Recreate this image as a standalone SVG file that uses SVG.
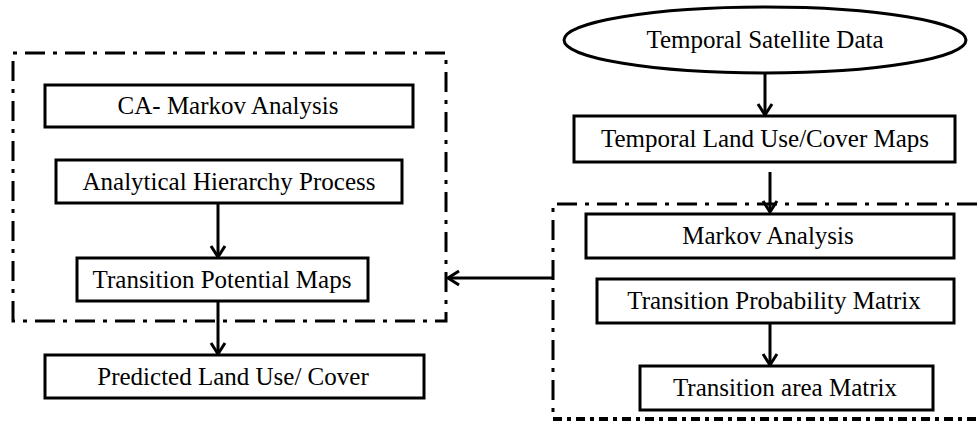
<svg xmlns="http://www.w3.org/2000/svg" width="977" height="421" viewBox="0 0 977 421">
<style>
.box{fill:#fff;stroke:#000;stroke-width:3}
.t{font-family:'Liberation Serif',serif !important;font-size:25px;fill:#000;text-anchor:middle}
.dash{fill:none;stroke:#000;stroke-width:3;stroke-dasharray:20,8,4,8}
.dash2{fill:none;stroke:#000;stroke-width:4;stroke-dasharray:9,5,4,5}
.c{fill:none;stroke:#000;stroke-width:3}
</style>
<defs>
<marker id="ah" markerUnits="userSpaceOnUse" markerWidth="20" markerHeight="20" viewBox="-14 -10 16 20" refX="0" refY="0" orient="auto">
<path d="M-11,-7 L0,0 L-11,7" fill="none" stroke="#000" stroke-width="3"/>
</marker>
</defs>
<rect width="977" height="421" fill="#fff"/>
<g id="groups">
<path class="dash" d="M13,321 L13,53 L446,53 L446,321 Z"/>
<path class="dash" d="M977,204 L553,204 L553,419"/>
<path class="dash2" d="M553,419 L977,419"/>
</g>
<g id="connectors">
<line class="c" x1="765" y1="73" x2="765" y2="115" marker-end="url(#ah)"/>
<line class="c" x1="770" y1="172" x2="770" y2="212" marker-end="url(#ah)"/>
<line class="c" x1="770" y1="323" x2="770" y2="365" marker-end="url(#ah)"/>
<line class="c" x1="553" y1="278" x2="448" y2="278" marker-end="url(#ah)"/>
<line class="c" x1="218" y1="203" x2="218" y2="257" marker-end="url(#ah)"/>
<line class="c" x1="218" y1="301" x2="218" y2="354" marker-end="url(#ah)"/>
</g>
<g id="nodes" font-family="Liberation Serif">
<g id="n-sat">
<ellipse class="box" cx="765" cy="40" rx="201" ry="33"/>
<text class="t" style="font-family:'Liberation Serif',serif !important" x="765" y="48">Temporal Satellite  Data</text>
</g>
<g id="n-tlu">
<rect class="box" x="574" y="116" width="381" height="46"/>
<text class="t" style="font-family:'Liberation Serif',serif !important" x="765" y="147">Temporal Land Use/Cover Maps</text>
</g>
<g id="n-markov">
<rect class="box" x="586" y="214" width="368" height="44"/>
<text class="t" style="font-family:'Liberation Serif',serif !important" x="768" y="244">Markov Analysis</text>
</g>
<g id="n-tpm">
<rect class="box" x="597" y="279" width="357" height="44"/>
<text class="t" style="font-family:'Liberation Serif',serif !important" x="774" y="309">Transition Probability Matrix</text>
</g>
<g id="n-tam">
<rect class="box" x="640" y="366" width="293" height="44"/>
<text class="t" style="font-family:'Liberation Serif',serif !important" x="785" y="396">Transition area Matrix</text>
</g>
<g id="n-ca">
<rect class="box" x="45" y="85" width="368" height="42"/>
<text class="t" style="font-family:'Liberation Serif',serif !important" x="228" y="114">CA- Markov Analysis</text>
</g>
<g id="n-ahp">
<rect class="box" x="56" y="160" width="346" height="43"/>
<text class="t" style="font-family:'Liberation Serif',serif !important" x="229" y="190">Analytical Hierarchy Process</text>
</g>
<g id="n-tpmaps">
<rect class="box" x="77" y="258" width="291" height="43"/>
<text class="t" style="font-family:'Liberation Serif',serif !important" x="222" y="288">Transition Potential Maps</text>
</g>
<g id="n-pred">
<rect class="box" x="45" y="355" width="379" height="43"/>
<text class="t" style="font-family:'Liberation Serif',serif !important" x="233" y="385">Predicted Land Use/ Cover</text>
</g>
</g>
</svg>
